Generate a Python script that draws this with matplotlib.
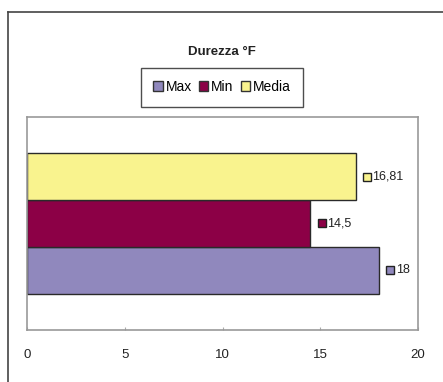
import matplotlib
matplotlib.use('Agg')
from matplotlib import pyplot as plt
import matplotlib.transforms as mtransforms
from matplotlib.patches import Patch
from matplotlib.lines import Line2D

plt.rcParams['font.family'] = ['Liberation Sans', 'DejaVu Sans']

series = ['Max', 'Min', 'Media']
values = [18, 14.5, 16.81]
value_labels = ['18', '14,5', '16,81']
colors = ['#9088bd', '#8c0046', '#f9f38e']
xticks = [0, 5, 10, 15, 20]

W, H = 443, 382
fig = plt.figure(figsize=(W / 100, H / 100), dpi=100)
fig.patch.set_facecolor('white')

# outer chart frame (left and top edges visible)
fig.add_artist(Line2D([8 / W, 8 / W], [0, 1 - 12 / H], transform=fig.transFigure, color='#444444', lw=1.2))
fig.add_artist(Line2D([8 / W, 1], [1 - 12 / H, 1 - 12 / H], transform=fig.transFigure, color='#444444', lw=1.2))

# plot area in pixels: x 27..418, y 117..330
ax = fig.add_axes([27 / W, 1 - 330 / H, (418 - 27) / W, (330 - 117) / H])
off = mtransforms.offset_copy(ax.transData, fig=fig, x=8, y=0, units='points')
for i, (v, c) in enumerate(zip(values, colors)):
    ax.barh(i, v, height=1.0, color=c, edgecolor='#2a2a2a', linewidth=1.0)
    # legend key next to the data label
    ax.plot([v], [i], marker='s', markersize=5.5, markerfacecolor=c, markeredgecolor='#222222',
            markeredgewidth=1.0, transform=off, clip_on=False, linestyle='none')
    ax.annotate(value_labels[i], xy=(v, i), xytext=(12, 0), textcoords='offset points',
                va='center', ha='left', fontsize=9, color='#222222', annotation_clip=False)

ax.set_xlim(0, 20)
ax.set_ylim(-1.27, 3.27)
ax.set_xticks(xticks)
ax.set_xticklabels([str(t) for t in xticks], fontsize=9.5, color='#222222')
ax.tick_params(axis='x', length=2, direction='in', color='#aaaaaa', pad=14)
ax.set_yticks([])
for s in ax.spines.values():
    s.set_color('#999999')
    s.set_linewidth(1.2)

fig.text(222 / W, 1 - 52 / H, 'Durezza °F', ha='center', va='center', fontsize=9.5, fontweight='bold', color='#222222')

handles = [Patch(facecolor=c, edgecolor='#333333', linewidth=1.0) for c in colors]
leg = fig.legend(handles, series, loc='center', bbox_to_anchor=(222 / W, 1 - 87 / H), ncol=3,
                 fontsize=10, frameon=True, fancybox=False, edgecolor='#222222',
                 handlelength=0.7, handleheight=0.7, handletextpad=0.2, columnspacing=0.5,
                 borderpad=0.9, borderaxespad=0)
leg.get_frame().set_linewidth(1.0)

fig.savefig('out.png', dpi=100)
